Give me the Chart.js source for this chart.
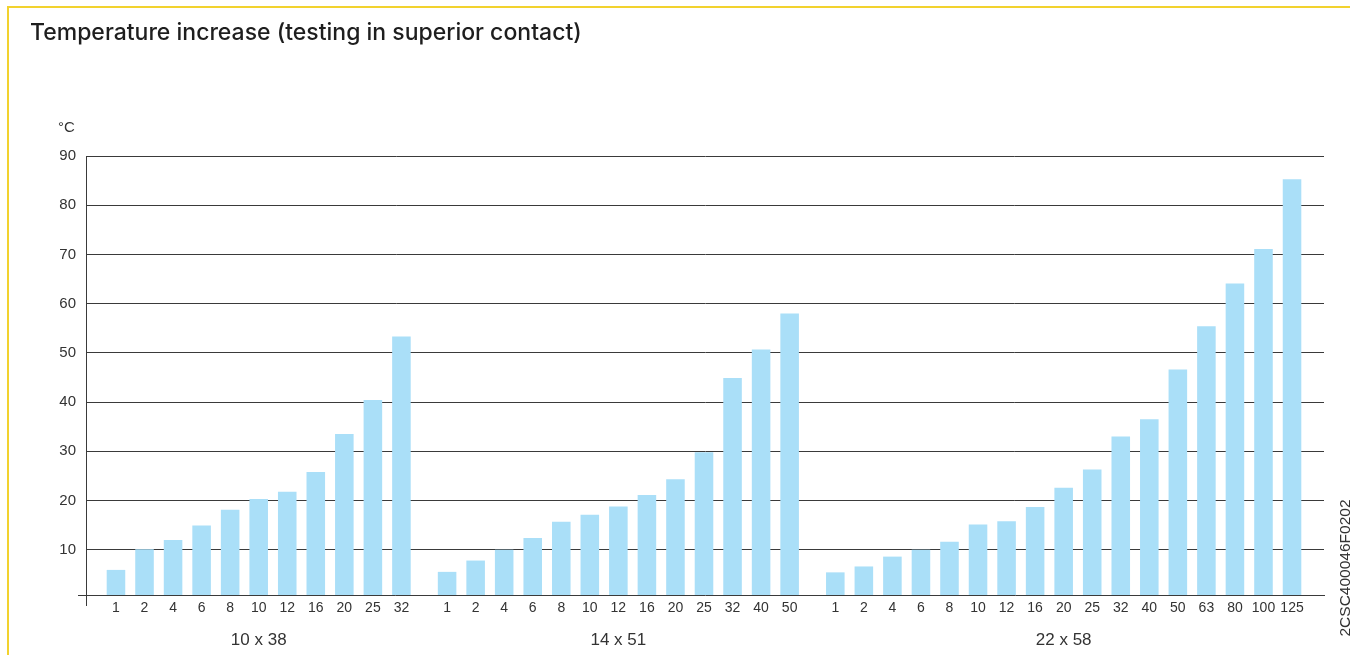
<!DOCTYPE html>
<html>
<head>
<meta charset="utf-8">
<script src="https://cdn.jsdelivr.net/npm/chart.js@4.4.1/dist/chart.umd.min.js"></script>
<style>
  html, body { margin: 0; padding: 0; background: #ffffff; }
  #wrap { position: relative; width: 1350px; height: 655px; overflow: hidden; background: #fff; }
  #frameTop { position: absolute; left: 7px; top: 6px; width: 1343px; height: 2px; background: #f2d22e; }
  #frameLeft { position: absolute; left: 7px; top: 6px; width: 2px; height: 649px; background: #f2d22e; }
  #unit { position: absolute; left: 58px; top: 118px; font: 15px "Liberation Sans", Arial, sans-serif; color: #333; line-height: 18px; }
  #code { position: absolute; left: 1265px; top: 559px; width: 160px; height: 18px; line-height: 18px; text-align: center;
          font: 15.5px "Liberation Sans", Arial, sans-serif; color: #333; transform: rotate(-90deg); transform-origin: 50% 50%; white-space: nowrap; }
  #c { position: absolute; left: 0; top: 0; }
</style>
</head>
<body>
<div id="wrap">
  <canvas id="c" width="1350" height="655"></canvas>
  <div id="frameTop"></div>
  <div id="frameLeft"></div>
  <div id="unit">°C</div>
  <div id="code">2CSC400046F0202</div>
</div>
<script>
// ---- data ----
const titleText = 'Temperature increase (testing in superior contact)';
const groupNames = ['10 x 38', '14 x 51', '22 x 58'];
const labels1 = ['1','2','4','6','8','10','12','16','20','25','32'];
const values1 = [5.9, 10.1, 12.0, 14.9, 18.1, 20.3, 21.8, 25.8, 33.5, 40.4, 53.3];
const labels2 = ['1','2','4','6','8','10','12','16','20','25','32','40','50'];
const values2 = [5.5, 7.8, 10.0, 12.4, 15.7, 17.1, 18.8, 21.1, 24.3, 29.8, 44.9, 50.7, 58.0];
const labels3 = ['1','2','4','6','8','10','12','16','20','25','32','40','50','63','80','100','125'];
const values3 = [5.4, 6.6, 8.6, 10.0, 11.6, 15.1, 15.8, 18.7, 22.6, 26.3, 33.0, 36.5, 46.6, 55.4, 64.1, 71.1, 85.3];
const yTicks = [10, 20, 30, 40, 50, 60, 70, 80, 90];
const yMin = 0.8;
const yMax = 90;

// ---- layout helpers (positions along x built from the arrays) ----
const groupGap = 0.6;
const groups = [[labels1, values1], [labels2, values2], [labels3, values3]];
const points = [], tickPos = [], tickLab = [], groupPos = [];
let pos = 0;
groups.forEach(([labs, vals]) => {
  const start = pos;
  labs.forEach((l, i) => {
    points.push({ x: pos, y: vals[i] });
    tickPos.push(pos);
    tickLab.push(l);
    pos += 1;
  });
  groupPos.push((start + pos - 1) / 2);
  pos += groupGap;
});
const lastPos = tickPos[tickPos.length - 1];
const xMin = -1.05, xMax = lastPos + 1.12;

const lineColor = '#3a3a3a';
const textColor = '#333333';
const font = 'Liberation Sans, Arial, Helvetica, sans-serif';

const axisExt = {
  id: 'axisExt',
  afterDraw(chart) {
    const { ctx, chartArea: a } = chart;
    const yb = Math.round(a.bottom) + 0.5;
    const xl = Math.round(a.left) + 0.5;
    ctx.save();
    ctx.strokeStyle = lineColor;
    ctx.lineWidth = 1;
    ctx.beginPath();
    ctx.moveTo(a.left - 8, yb);
    ctx.lineTo(a.left, yb);
    ctx.moveTo(xl, a.bottom);
    ctx.lineTo(xl, a.bottom + 11);
    ctx.stroke();
    ctx.restore();
  }
};

new Chart(document.getElementById('c'), {
  type: 'bar',
  data: {
    datasets: [{
      data: points,
      backgroundColor: '#aadff8',
      borderWidth: 0,
      barPercentage: 0.65,
      categoryPercentage: 1.0
    }]
  },
  options: {
    responsive: false,
    animation: false,
    devicePixelRatio: 1,
    layout: { padding: { left: 30, right: 26, top: 0, bottom: 0 } },
    plugins: {
      legend: { display: false },
      tooltip: { enabled: false },
      title: {
        display: true,
        text: titleText,
        align: 'start',
        color: '#1e1e1e',
        font: { family: 'Inter, ' + font, size: 23, weight: '500', lineHeight: 1.2 },
        padding: { top: 19.2, bottom: 109.2 }
      }
    },
    scales: {
      x: {
        type: 'linear',
        position: 'bottom',
        offset: false,
        weight: 0,
        min: xMin,
        max: xMax,
        afterBuildTicks: (s) => { s.ticks = tickPos.map(v => ({ value: v })); },
        afterFit: (s) => { s.height = 26; },
        grid: { display: false, drawTicks: false, offset: false },
        border: { display: true, color: lineColor, width: 1 },
        ticks: {
          autoSkip: false, maxRotation: 0, minRotation: 0, padding: 5,
          color: textColor,
          font: { family: font, size: 14 },
          callback: (v, i) => tickLab[i]
        }
      },
      xg: {
        type: 'linear',
        position: 'bottom',
        offset: false,
        weight: 1,
        min: xMin,
        max: xMax,
        afterBuildTicks: (s) => { s.ticks = groupPos.map(v => ({ value: v })); },
        afterFit: (s) => { s.height = 34; },
        grid: { display: false, drawTicks: false, offset: false },
        border: { display: false },
        ticks: {
          autoSkip: false, maxRotation: 0, minRotation: 0, padding: 9,
          color: textColor,
          font: { family: font, size: 17 },
          callback: (v, i) => groupNames[i]
        }
      },
      y: {
        type: 'linear',
        min: yMin,
        max: yMax,
        afterBuildTicks: (s) => { s.ticks = yTicks.map(v => ({ value: v })); },
        afterFit: (s) => { s.width = 56; },
        grid: { color: lineColor, lineWidth: 1, drawTicks: false },
        border: { display: true, color: lineColor, width: 1 },
        ticks: {
          padding: 10,
          color: textColor,
          font: { family: font, size: 15 },
          callback: (v) => String(v)
        }
      }
    }
  },
  plugins: [axisExt]
});
</script>
</body>
</html>
